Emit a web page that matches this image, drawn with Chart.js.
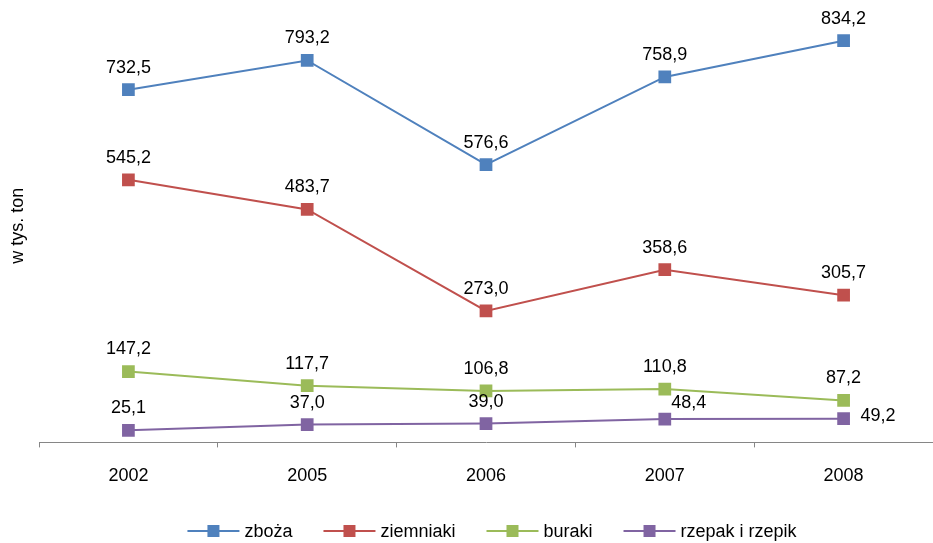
<!DOCTYPE html>
<html>
<head>
<meta charset="utf-8">
<script src="https://cdn.jsdelivr.net/npm/chart.js@4"></script>
<style>
html,body{margin:0;padding:0;background:#fff;}
#wrap{width:933px;height:543px;position:relative;}
</style>
</head>
<body>
<div id="wrap"><canvas id="c" width="933" height="543"></canvas></div>
<script>
const years = ['2002', '2005', '2006', '2007', '2008'];
const zboza = [732.5, 793.2, 576.6, 758.9, 834.2];
const ziemniaki = [545.2, 483.7, 273.0, 358.6, 305.7];
const buraki = [147.2, 117.7, 106.8, 110.8, 87.2];
const rzepak = [25.1, 37.0, 39.0, 48.4, 49.2];
const seriesNames = ['zboża', 'ziemniaki', 'buraki', 'rzepak i rzepik'];
const yTitle = 'w tys. ton';

const colors = ['#4F81BD', '#C0504D', '#9BBB59', '#8064A2'];
const FONT = '"Liberation Sans", Arial, sans-serif';

function ds(label, data, color) {
  return {
    label, data,
    borderColor: color, backgroundColor: color,
    borderWidth: 2, pointStyle: 'rect', pointRadius: 9, pointHoverRadius: 9,
    pointBorderWidth: 0, tension: 0
  };
}

const labelPlugin = {
  id: 'valueLabels',
  afterDatasetsDraw(chart) {
    const ctx = chart.ctx;
    ctx.save();
    ctx.font = '18px ' + FONT;
    ctx.fillStyle = '#000';
    ctx.textBaseline = 'middle';
    chart.data.datasets.forEach((d, di) => {
      const meta = chart.getDatasetMeta(di);
      meta.data.forEach((pt, i) => {
        const txt = d.data[i].toFixed(1).replace('.', ',');
        if (di === 3 && i === d.data.length - 1) {
          ctx.textAlign = 'left';
          ctx.fillText(txt, pt.x + 17, pt.y - 3);
        } else if (di === 3 && i === 3) {
          ctx.textAlign = 'center';
          ctx.fillText(txt, pt.x + 24, pt.y - 16);
        } else {
          ctx.textAlign = 'center';
          ctx.fillText(txt, pt.x, pt.y - 22);
        }
      });
    });
    ctx.save();
    ctx.translate(18, (chart.chartArea.top + chart.chartArea.bottom) / 2);
    ctx.rotate(-Math.PI / 2);
    ctx.textAlign = 'center';
    ctx.fillText(yTitle, 0, 0);
    ctx.restore();
    ctx.restore();
  },
  afterDraw(chart) {
    const ctx = chart.ctx;
    ctx.save();
    ctx.font = '18px ' + FONT;
    ctx.textBaseline = 'middle';
    const lineLen = 52, gapText = 5, gapItem = 31;
    const items = chart.data.datasets.map(d => ({
      label: d.label, color: d.borderColor,
      w: lineLen + gapText + ctx.measureText(d.label).width
    }));
    const total = items.reduce((s, it) => s + it.w, 0) + gapItem * (items.length - 1);
    let x = 492 - total / 2;
    const y = 531;
    items.forEach(it => {
      ctx.strokeStyle = it.color;
      ctx.lineWidth = 2;
      ctx.beginPath();
      ctx.moveTo(x, y);
      ctx.lineTo(x + lineLen, y);
      ctx.stroke();
      ctx.fillStyle = it.color;
      ctx.fillRect(x + lineLen / 2 - 6, y - 6, 12, 12);
      ctx.fillStyle = '#000';
      ctx.textAlign = 'left';
      ctx.fillText(it.label, x + lineLen + gapText, y + 1);
      x += it.w + gapItem;
    });
    ctx.restore();
  }
};

new Chart(document.getElementById('c'), {
  type: 'line',
  data: {
    labels: years,
    datasets: [
      ds(seriesNames[0], zboza, colors[0]),
      ds(seriesNames[1], ziemniaki, colors[1]),
      ds(seriesNames[2], buraki, colors[2]),
      ds(seriesNames[3], rzepak, colors[3])
    ]
  },
  options: {
    responsive: false,
    animation: false,
    events: [],
    layout: { autoPadding: false, padding: { left: 39, top: 9, right: 0, bottom: 38 } },
    plugins: { legend: { display: false }, tooltip: { enabled: false } },
    scales: {
      x: {
        offset: true,
        grid: { offset: true, drawOnChartArea: false, drawTicks: true, tickLength: 5, color: '#868686', lineWidth: 1 },
        border: { display: true, color: '#868686', width: 1 },
        ticks: { color: '#000', font: { size: 18, family: FONT }, padding: 18, maxRotation: 0 }
      },
      y: {
        display: false,
        min: 0, max: 900
      }
    }
  },
  plugins: [labelPlugin]
});
</script>
</body>
</html>
